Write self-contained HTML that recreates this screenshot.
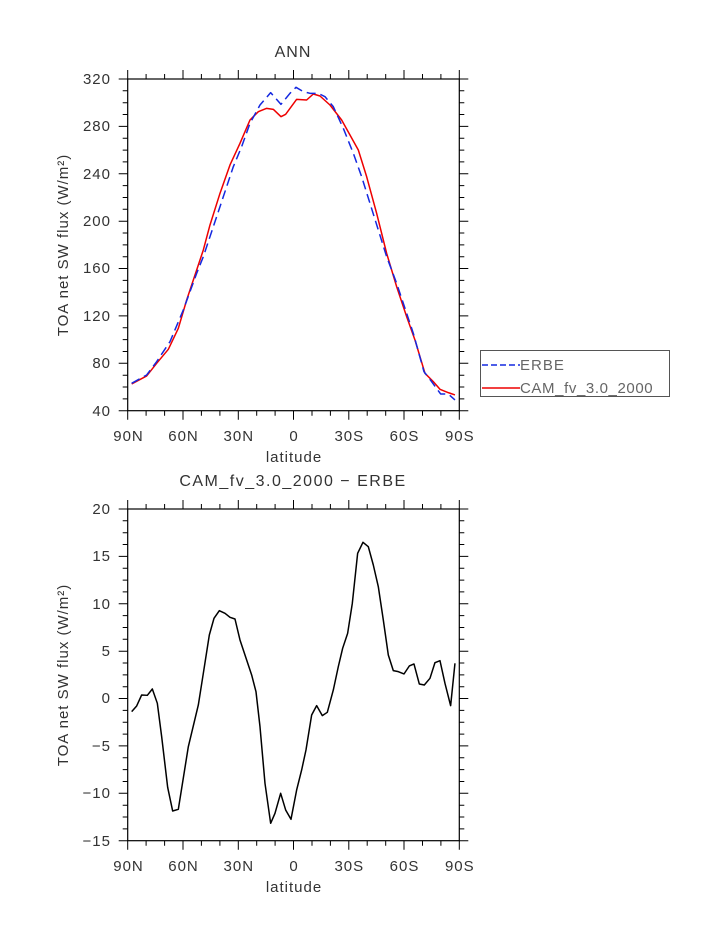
<!DOCTYPE html>
<html><head><style>
html,body{margin:0;padding:0;background:#fff;}
svg text{font-family:"Liberation Sans",sans-serif;fill:#333;letter-spacing:1px;}
</style></head><body>
<svg width="723" height="935" xmlns="http://www.w3.org/2000/svg">
<g id="top">
<text x="293" y="57" font-size="16" text-anchor="middle">ANN</text>
<rect x="127.7" y="79" width="331.6" height="331.7" fill="none" stroke="#000" stroke-width="1.2"/>
<g stroke="#000" stroke-width="1">
<path d="M127.7,79v-9M183,79v-9M238.3,79v-9M293.5,79v-9M348.8,79v-9M404,79v-9M459.3,79v-9M127.7,410.7v9M183,410.7v9M238.3,410.7v9M293.5,410.7v9M348.8,410.7v9M404,410.7v9M459.3,410.7v9"/>
<path d="M146.1,79v-5M164.6,79v-5M201.4,79v-5M219.9,79v-5M256.7,79v-5M275.1,79v-5M312,79v-5M330.4,79v-5M367.2,79v-5M385.7,79v-5M422.5,79v-5M440.9,79v-5M146.1,410.7v5M164.6,410.7v5M201.4,410.7v5M219.9,410.7v5M256.7,410.7v5M275.1,410.7v5M312,410.7v5M330.4,410.7v5M367.2,410.7v5M385.7,410.7v5M422.5,410.7v5M440.9,410.7v5"/>
<path d="M127.7,79h-9M127.7,126.4h-9M127.7,173.8h-9M127.7,221.2h-9M127.7,268.5h-9M127.7,315.9h-9M127.7,363.3h-9M127.7,410.7h-9M459.3,79h9M459.3,126.4h9M459.3,173.8h9M459.3,221.2h9M459.3,268.5h9M459.3,315.9h9M459.3,363.3h9M459.3,410.7h9"/>
<path d="M127.7,90.8h-5M127.7,102.7h-5M127.7,114.5h-5M127.7,138.2h-5M127.7,150.1h-5M127.7,161.9h-5M127.7,185.6h-5M127.7,197.5h-5M127.7,209.3h-5M127.7,233h-5M127.7,244.9h-5M127.7,256.7h-5M127.7,280.4h-5M127.7,292.2h-5M127.7,304.1h-5M127.7,327.8h-5M127.7,339.6h-5M127.7,351.5h-5M127.7,375.2h-5M127.7,387h-5M127.7,398.9h-5M459.3,90.8h5M459.3,102.7h5M459.3,114.5h5M459.3,138.2h5M459.3,150.1h5M459.3,161.9h5M459.3,185.6h5M459.3,197.5h5M459.3,209.3h5M459.3,233h5M459.3,244.9h5M459.3,256.7h5M459.3,280.4h5M459.3,292.2h5M459.3,304.1h5M459.3,327.8h5M459.3,339.6h5M459.3,351.5h5M459.3,375.2h5M459.3,387h5M459.3,398.9h5"/>
</g>
<g font-size="15" text-anchor="end">
<text x="111" y="84">320</text><text x="111" y="131">280</text><text x="111" y="179">240</text><text x="111" y="226">200</text><text x="111" y="273">160</text><text x="111" y="321">120</text><text x="111" y="368">80</text><text x="111" y="416">40</text>
</g>
<g font-size="15" text-anchor="middle">
<text x="128.5" y="441">90N</text><text x="183.5" y="441">60N</text><text x="238.8" y="441">30N</text><text x="294" y="441">0</text><text x="349.3" y="441">30S</text><text x="404.5" y="441">60S</text><text x="459.8" y="441">90S</text>
<text x="294" y="462">latitude</text>
</g>
<text transform="translate(68,245) rotate(-90)" font-size="15" text-anchor="middle">TOA net SW flux (W/m²)</text>
<g transform="translate(120,70) scale(0.3333)" fill="none" stroke-width="4.5" stroke-linejoin="round">
<polyline stroke="#e00" points="35,942 80,918 110,880 145,838 175,775 200,690 230,600 250,540 270,465 300,370 330,285 360,220 390,150 415,125 440,115 460,118 483,140 497,133 530,88 560,90 580,72 600,78 630,105 665,150 690,195 715,240 740,320 770,430 800,550 830,650 860,740 885,810 915,910 940,935 960,958 985,968 1005,975"/>
<polyline stroke="#1428e0" stroke-dasharray="27,15" points="35,940 80,915 110,875 150,815 190,720 230,610 250,560 280,470 310,380 340,290 365,230 390,160 420,105 452,68 483,103 510,70 528,52 550,65 570,70 595,70 615,80 640,110 670,175 700,250 725,320 750,400 775,480 800,560 830,640 860,730 880,790 912,905 935,935 962,972 985,972 1005,990"/>
</g>
<rect x="480.5" y="350.5" width="189" height="46" fill="#fff" stroke="#555" stroke-width="1"/>
<line x1="482" y1="365" x2="520" y2="365" stroke="#1428e0" stroke-width="1.5" stroke-dasharray="6,3"/>
<line x1="482" y1="388" x2="520" y2="388" stroke="#e00" stroke-width="1.5"/>
<text x="520" y="370" font-size="15" style="fill:#666">ERBE</text>
<text x="520" y="393" font-size="15" style="fill:#666;letter-spacing:0.6px">CAM_fv_3.0_2000</text>
</g>
<g id="bot">
<text x="293" y="486" font-size="16" text-anchor="middle" style="letter-spacing:1.5px">CAM_fv_3.0_2000 − ERBE</text>
<rect x="127.7" y="509" width="331.6" height="331.7" fill="none" stroke="#000" stroke-width="1.2"/>
<g stroke="#000" stroke-width="1">
<path d="M127.7,509v-9M183,509v-9M238.3,509v-9M293.5,509v-9M348.8,509v-9M404,509v-9M459.3,509v-9M127.7,840.7v9M183,840.7v9M238.3,840.7v9M293.5,840.7v9M348.8,840.7v9M404,840.7v9M459.3,840.7v9"/>
<path d="M146.1,509v-5M164.6,509v-5M201.4,509v-5M219.9,509v-5M256.7,509v-5M275.1,509v-5M312,509v-5M330.4,509v-5M367.2,509v-5M385.7,509v-5M422.5,509v-5M440.9,509v-5M146.1,840.7v5M164.6,840.7v5M201.4,840.7v5M219.9,840.7v5M256.7,840.7v5M275.1,840.7v5M312,840.7v5M330.4,840.7v5M367.2,840.7v5M385.7,840.7v5M422.5,840.7v5M440.9,840.7v5"/>
<path d="M127.7,509h-9M127.7,556.4h-9M127.7,603.8h-9M127.7,651.2h-9M127.7,698.5h-9M127.7,745.9h-9M127.7,793.3h-9M127.7,840.7h-9M459.3,509h9M459.3,556.4h9M459.3,603.8h9M459.3,651.2h9M459.3,698.5h9M459.3,745.9h9M459.3,793.3h9M459.3,840.7h9"/>
<path d="M127.7,520.8h-5M127.7,532.7h-5M127.7,544.5h-5M127.7,568.2h-5M127.7,580.1h-5M127.7,591.9h-5M127.7,615.6h-5M127.7,627.5h-5M127.7,639.3h-5M127.7,663h-5M127.7,674.9h-5M127.7,686.7h-5M127.7,710.4h-5M127.7,722.2h-5M127.7,734.1h-5M127.7,757.8h-5M127.7,769.6h-5M127.7,781.5h-5M127.7,805.2h-5M127.7,817h-5M127.7,828.9h-5M459.3,520.8h5M459.3,532.7h5M459.3,544.5h5M459.3,568.2h5M459.3,580.1h5M459.3,591.9h5M459.3,615.6h5M459.3,627.5h5M459.3,639.3h5M459.3,663h5M459.3,674.9h5M459.3,686.7h5M459.3,710.4h5M459.3,722.2h5M459.3,734.1h5M459.3,757.8h5M459.3,769.6h5M459.3,781.5h5M459.3,805.2h5M459.3,817h5M459.3,828.9h5"/>
</g>
<g font-size="15" text-anchor="end">
<text x="111" y="514">20</text><text x="111" y="561">15</text><text x="111" y="609">10</text><text x="111" y="656">5</text><text x="111" y="703">0</text><text x="111" y="751">−5</text><text x="111" y="798">−10</text><text x="111" y="846">−15</text>
</g>
<g font-size="15" text-anchor="middle">
<text x="128.5" y="871">90N</text><text x="183.5" y="871">60N</text><text x="238.8" y="871">30N</text><text x="294" y="871">0</text><text x="349.3" y="871">30S</text><text x="404.5" y="871">60S</text><text x="459.8" y="871">90S</text>
<text x="294" y="892">latitude</text>
</g>
<text transform="translate(68,675) rotate(-90)" font-size="15" text-anchor="middle">TOA net SW flux (W/m²)</text>
<g transform="translate(120,500) scale(0.3333)" fill="none" stroke-width="4.5" stroke-linejoin="round">
<polyline stroke="#000" points="35,635 50,618 65,585 82,586 97,567 112,610 125,710 143,862 158,933 175,928 205,740 235,615 250,520 268,405 282,355 298,332 315,340 330,352 345,357 360,420 380,480 395,525 408,575 420,680 435,850 452,970 465,940 482,880 497,930 513,958 530,870 545,810 558,750 575,645 590,617 607,647 622,637 640,570 655,500 668,445 683,400 697,310 713,160 729,127 745,140 760,195 775,260 790,360 805,465 820,512 835,515 852,522 868,498 882,492 898,552 913,555 930,535 945,488 960,482 975,550 992,617 1005,490"/>
</g>
</g>
</svg>
</body></html>
